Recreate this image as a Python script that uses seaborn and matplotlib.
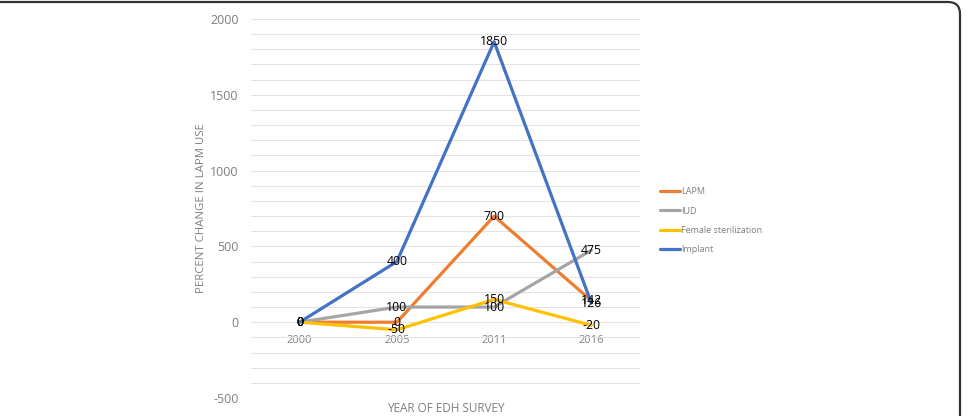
import numpy as np
import pandas as pd
import seaborn as sns
import matplotlib.pyplot as plt
from matplotlib.ticker import MultipleLocator
from matplotlib.patches import FancyBboxPatch

# Data
years = ['2000', '2005', '2011', '2016']
lapm = [0, 0, 700, 142]
iud = [0, 100, 100, 475]
female_ster = [0, -50, 150, -20]
implant = [0, 400, 1850, 126]

series_names = ['LAPM', 'IUD', 'Female sterilization', 'Implant']
colors = ['#ED7D31', '#A5A5A5', '#FFC000', '#4472C4']

df = pd.DataFrame({
    'Year': years * 4,
    'Value': lapm + iud + female_ster + implant,
    'Series': [s for s in series_names for _ in years],
})

sns.set_style('white')
plt.rcParams['font.family'] = ['Open Sans', 'DejaVu Sans']
plt.rcParams['axes.unicode_minus'] = False

fig = plt.figure(figsize=(9.67, 4.16), dpi=100)
ax = fig.add_axes([251 / 967, 1 - 398 / 416, (640 - 251) / 967, (398 - 19) / 416])

sns.lineplot(data=df, x='Year', y='Value', hue='Series', hue_order=series_names,
             palette=colors, sort=False, linewidth=2.3, ax=ax, legend=True)

# data labels
for name, vals in zip(series_names, [lapm, iud, female_ster, implant]):
    for i, v in enumerate(vals):
        ax.text(i, v, str(v), ha='center', va='center', fontsize=8.8, color='black', zorder=5)

ax.set_xlim(-0.5, 3.5)
ax.set_ylim(-500, 2000)
ax.yaxis.set_major_locator(MultipleLocator(500))
ax.yaxis.set_minor_locator(MultipleLocator(100))
ax.grid(True, which='both', axis='y', color='#E3E3E3', linewidth=0.8)
ax.set_axisbelow(True)
for s in ['top', 'right', 'left']:
    ax.spines[s].set_visible(False)
ax.spines['bottom'].set_position(('data', 0))
ax.spines['bottom'].set_visible(False)
ax.tick_params(axis='x', length=0, pad=9, labelsize=8, labelcolor='#7F7F7F')
ax.tick_params(axis='y', which='both', length=0, pad=9, labelsize=9, labelcolor='#7F7F7F')

ax.set_xlabel('')
ax.set_ylabel('PERCENT CHANGE IN LAPM USE', fontsize=8.2, color='#7F7F7F', labelpad=2)
fig.text(445.5 / 967, 1 - 409 / 416, 'YEAR OF EDH SURVEY', ha='center', va='center',
         fontsize=8.5, color='#7F7F7F')

leg = ax.legend(loc='upper left', bbox_to_anchor=(652 / 967, 1 - 179 / 416),
                bbox_transform=fig.transFigure, frameon=False, fontsize=6.5,
                handlelength=2.2, handletextpad=0.1, labelspacing=1.15)
for t in leg.get_texts():
    t.set_color('#7F7F7F')
for line in leg.get_lines():
    line.set_linewidth(2.3)

# outer frame
frame = FancyBboxPatch((-12, -30), 972, 444, boxstyle='round,pad=0,rounding_size=12',
                       transform=None, fill=False, edgecolor='#333333', linewidth=1.6)
fig.patches.append(frame)

fig.savefig('out.png', dpi=100)
